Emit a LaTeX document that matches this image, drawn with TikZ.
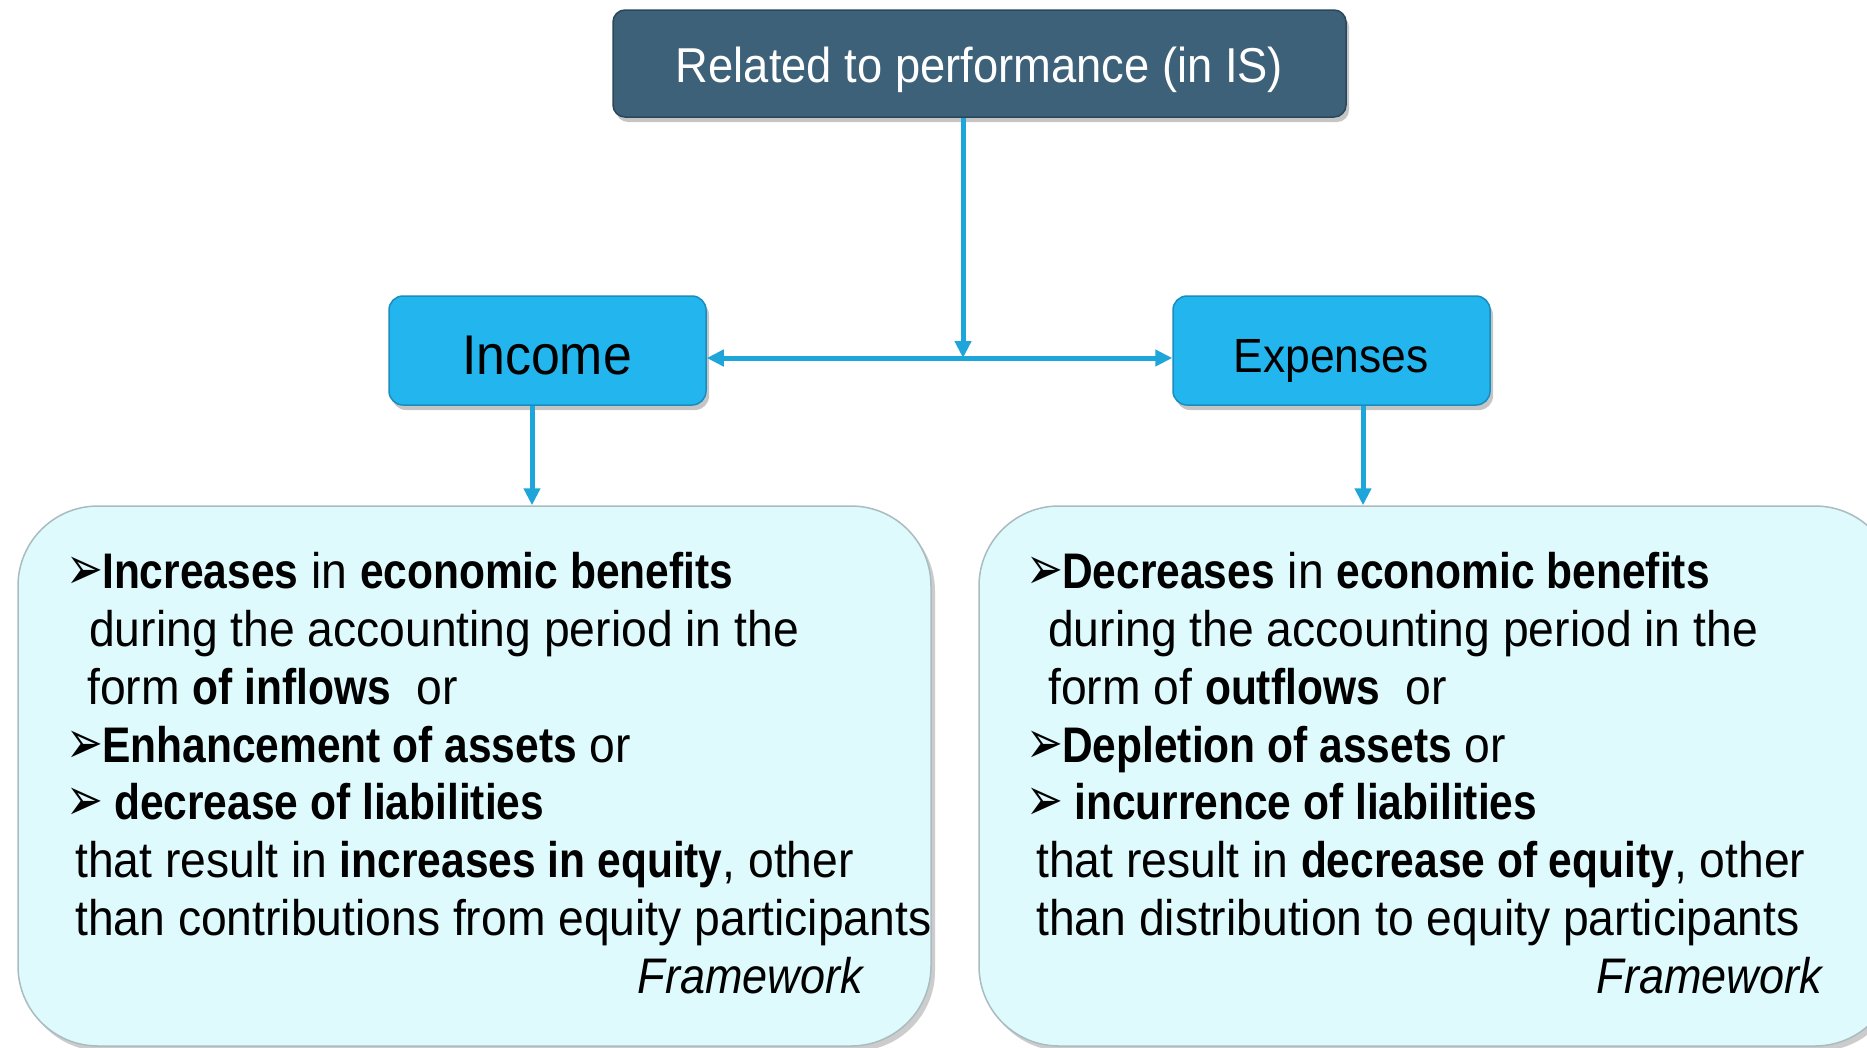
\documentclass[tikz,border=0pt]{standalone}
\usepackage{fontspec}
\usepackage{graphicx}
\setmainfont{Liberation Sans}[FakeStretch=0.925,BoldFeatures={FakeStretch=0.85},ItalicFeatures={FakeStretch=0.9},BoldItalicFeatures={FakeStretch=0.85}]
\newfontfamily\bulletfont{DejaVu Sans}
\newcommand{\arrbullet}{\scalebox{1.05}[1.45]{➢}}
\usetikzlibrary{shadows,arrows.meta}
\definecolor{topfill}{HTML}{3D6179}
\definecolor{topdraw}{HTML}{2A475B}
\definecolor{cyanfill}{HTML}{22B5EE}
\definecolor{cyandraw}{HTML}{1A8DBF}
\definecolor{arrowcol}{HTML}{1EA6DA}
\definecolor{lightfill}{HTML}{DEFAFD}
\definecolor{lightdraw}{HTML}{A9BCC1}
\begin{document}
\begin{tikzpicture}[x=1pt,y=-1pt,
  topbox/.style={draw=topdraw,line width=1.5pt,fill=topfill,rounded corners=12pt,
    drop shadow={shadow xshift=3pt,shadow yshift=-5pt,opacity=0.45}},
  catbox/.style={draw=cyandraw,line width=1.5pt,fill=cyanfill,rounded corners=14pt,
    minimum width=317pt,minimum height=109pt,
    drop shadow={shadow xshift=3pt,shadow yshift=-5pt,opacity=0.45}},
  boxtext/.style={inner sep=0pt},
  bigbox/.style={draw=lightdraw,line width=1.5pt,fill=lightfill,rounded corners=80pt,
    drop shadow={shadow xshift=4pt,shadow yshift=-5pt,opacity=0.4}},
  conn/.style={draw=arrowcol,line width=5pt},
  tip/.style={-{Triangle[length=17pt,width=16pt]}},
  line/.style={anchor=base west,inner sep=0pt,font=\fontsize{50}{58}\selectfont},
  lineend/.style={anchor=base east,inner sep=0pt,font=\fontsize{50}{58}\itshape\selectfont},
  bul/.style={anchor=base west,inner sep=0pt,font=\bulletfont\fontsize{42}{42}\selectfont}
]
\useasboundingbox (0,0) rectangle (1867,1047);
\clip (0,0) rectangle (1867,1047);
\fill[white] (0,0) rectangle (1867,1047);

% boxes
\node[topbox,minimum width=733pt,minimum height=107pt] (top) at (979.5,63.5) {};
\node[boxtext,anchor=base,text=white,font=\fontsize{49}{50}\selectfont] (toplabel) at (979.5,82) {Related to performance (in IS)};
\node[catbox] (income) at (547.5,350.5) {};
\node[boxtext,anchor=base,font=\fontsize{56}{58}\selectfont] (incomelabel) at (547,374) {Income};
\node[catbox] (expenses) at (1331.5,350.5) {};
\node[boxtext,anchor=base,font=\fontsize{48}{50}\selectfont] (expenseslabel) at (1331,372) {Expenses};
\node[bigbox,minimum width=913pt,minimum height=540pt] (lbox) at (474.5,776) {};
\node[bigbox,minimum width=916pt,minimum height=540pt] (rbox) at (1437,776) {};

% connectors
\coordinate (j) at (963,358);
\coordinate (ia) at (532,0);
\coordinate (ea) at (1363,0);
\draw[conn,tip] (top.south -| j) -- (j);
\draw[conn,{Triangle[length=17pt,width=16pt]}-{Triangle[length=17pt,width=16pt]}] (income.east |- j) -- (expenses.west |- j);
\draw[conn,tip] (income.south -| ia) -- (lbox.north -| ia);
\draw[conn,tip] (expenses.south -| ea) -- (rbox.north -| ea);

% left text
\node[bul] (lb1) at (66,589) {\arrbullet};
\node[line] (l1) at (102,588) {\textbf{Increases} in \textbf{economic benefits}};
\node[line] (l2) at (89,646) {during the accounting period in the};
\node[line] (l3) at (87,704) {form \textbf{of inflows}\ \ or};
\node[bul] (lb4) at (66,763) {\arrbullet};
\node[line] (l4) at (102,762) {\textbf{Enhancement of assets} or};
\node[bul] (lb5) at (66,820) {\arrbullet};
\node[line] (l5) at (114,819) {\textbf{decrease of liabilities}};
\node[line] (l6) at (75,877) {that result in \textbf{increases in equity}, other};
\node[line] (l7) at (75,935) {than contributions from equity participants};
\node[lineend] (l8) at (863,993) {Framework};

% right text
\node[bul] (rb1) at (1026,589) {\arrbullet};
\node[line] (r1) at (1062,588) {\textbf{Decreases} in \textbf{economic benefits}};
\node[line] (r2) at (1048,646) {during the accounting period in the};
\node[line] (r3) at (1048,704) {form of \textbf{outflows}\ \ or};
\node[bul] (rb4) at (1026,763) {\arrbullet};
\node[line] (r4) at (1062,762) {\textbf{Depletion of assets} or};
\node[bul] (rb5) at (1026,820) {\arrbullet};
\node[line] (r5) at (1074,819) {\textbf{incurrence of liabilities}};
\node[line] (r6) at (1036,877) {that result in \textbf{decrease of equity}, other};
\node[line] (r7) at (1036,935) {than distribution to equity participants};
\node[lineend] (r8) at (1822,993) {Framework};
\end{tikzpicture}
\end{document}
